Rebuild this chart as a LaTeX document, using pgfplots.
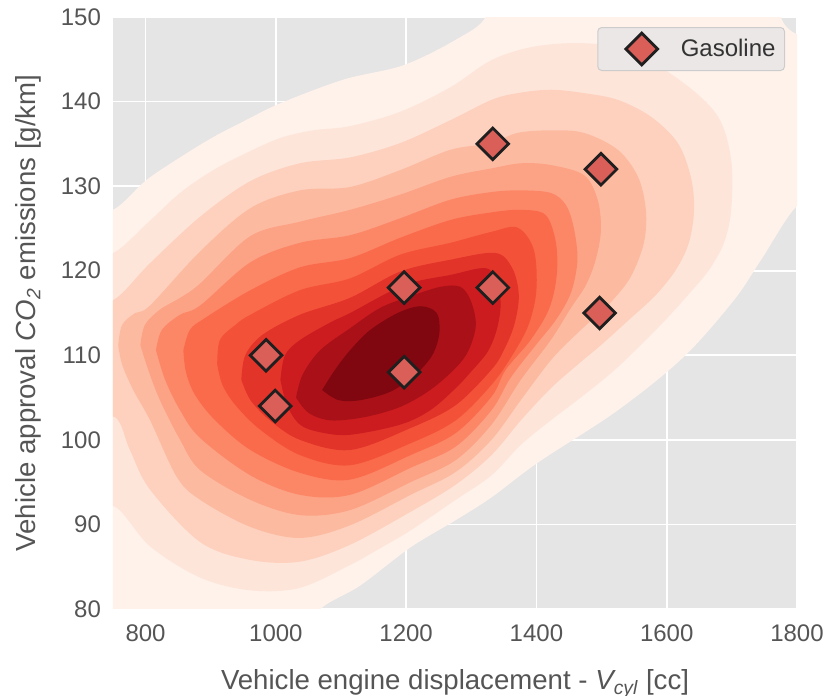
\documentclass[border=0pt]{standalone}
\usepackage{pgfplots}
\pgfplotsset{compat=1.18}
\usepackage{fontspec}
\setmainfont{Liberation Sans}

\definecolor{panel}{HTML}{E5E5E5}
\definecolor{labgray}{HTML}{555555}
\definecolor{legtext}{HTML}{333333}
\definecolor{legfill}{HTML}{EAE7E6}
\definecolor{legedge}{HTML}{CCCCCC}
\definecolor{gasfill}{HTML}{DA5F58}
% density bands, light to dark
\definecolor{lvA}{HTML}{FFF2EB}
\definecolor{lvB}{HTML}{FEE5D9}
\definecolor{lvC}{HTML}{FDD1BE}
\definecolor{lvD}{HTML}{FCBBA1}
\definecolor{lvE}{HTML}{FCA285}
\definecolor{lvF}{HTML}{FC8767}
\definecolor{lvG}{HTML}{FA6B4C}
\definecolor{lvH}{HTML}{F35239}
\definecolor{lvI}{HTML}{E3342A}
\definecolor{lvJ}{HTML}{CC1C1F}
\definecolor{lvK}{HTML}{AA1017}
\definecolor{lvL}{HTML}{80070F}

\pgfplotsset{band/.style={draw=none, fill=#1, smooth, tension=0.55, forget plot}}

\begin{document}
\begin{tikzpicture}
\path[use as bounding box] (-56.5pt,-43.5pt) rectangle (356.5pt,304.5pt);
\begin{axis}[
  at={(0,0)}, anchor=south west, scale only axis,
  width=342pt, height=296pt,
  xmin=750, xmax=1800, ymin=80, ymax=150,
  xtick={800,1000,...,1800}, ytick={80,90,...,150},
  axis background/.style={fill=panel},
  grid=major, major grid style={white, line width=0.8pt},
  axis line style={draw=none}, major tick length=0pt,
  /pgf/number format/assume math mode=true,
  /pgf/number format/1000 sep={},
  tick label style={font=\fontsize{12}{14}\selectfont, text=labgray},
  xticklabel style={yshift=-4.5pt},
  yticklabel style={xshift=-2.5pt},
  label style={font=\fontsize{13.8}{16}\selectfont, text=labgray},
  xlabel={Vehicle engine displacement - \textit{V\textsubscript{cyl}} [cc]},
  ylabel={Vehicle approval \textit{CO\textsubscript{2}} emissions [g/km]},
  xlabel style={at={(rel axis cs:0.5,0)}, anchor=base, yshift=-40.5pt},
  ylabel style={at={(rel axis cs:0,0.5)}, anchor=base, yshift=38.5pt},
  legend style={at={(rel axis cs:1,1)}, anchor=north east, xshift=-6pt, yshift=-5pt,
    fill=legfill, draw=legedge, line width=0.5pt, rounded corners=2pt,
    font=\fontsize{12}{14}\selectfont, text=legtext,
    inner xsep=2.5pt, inner ysep=0pt},
  legend cell align=left,
  legend image code/.code={\path[draw=none, fill=none] (-19.5pt,-10.75pt) rectangle (17.5pt,10.75pt);
    \draw[#1] plot coordinates {(0pt,0pt)};},
]

% filled density contours, outermost first
\addplot[band=lvA] coordinates {
(700,127.2) (750,127.2) (801,130.7) (853,133.4) (904,135.8) (954,137.8)
(1007,139.8) (1104,142.6) (1196,144.3) (1276,147.3) (1322,150.0) (1330,155)
(1770,155) (1775,150) (1802,147.9) (1850,147.9) (1850,128) (1802,127.8)
(1745,121.3) (1703,116.5) (1626,109.8) (1525,103.5) (1402,97.3) (1331,93.2)
(1276,90.5) (1207,87.3) (1130,82.8) (1064,79.6) (1064,75) (700,75) (700,127.2)};

\addplot[band=lvB] coordinates {
(700,122.1) (750,122.1) (801,125.5) (853,129.2) (904,131.9) (954,133.9)
(1007,135.7) (1057,136.6) (1114,137.1) (1191,138.8) (1268,141.7) (1331,144.9)
(1396,146.5) (1473,146.9) (1545,146.0) (1626,142.2) (1679,138.2) (1699,133.1)
(1699,127.2) (1688,123.3) (1665,120.1) (1637,117.5) (1591,113.6) (1525,108.6)
(1473,105.3) (1422,102.3) (1376,99.4) (1331,95.8) (1276,92.9) (1207,89.3)
(1156,87.0) (1114,85.2) (1037,82.5) (961,82.2) (884,83.7) (807,87.4)
(753,92.1) (700,92.1) (700,122.1)};

\addplot[band=lvC] coordinates {
(700,116.5) (750,116.5) (807,120.9) (884,126.4) (961,130.6) (1037,132.7)
(1114,133.4) (1191,135.1) (1268,137.8) (1331,140.2) (1371,141.0) (1422,141.4)
(1473,141.0) (1525,140.2) (1576,138.2) (1617,135.1) (1637,131.1) (1642,127.2)
(1634,123.3) (1614,120.1) (1583,117.1) (1545,114.4) (1499,111.2) (1468,109.2)
(1422,106.1) (1376,102.3) (1331,98.2) (1276,94.7) (1207,91.5) (1114,87.6)
(1037,85.6) (961,85.8) (884,87.9) (807,94.1) (776,98.8) (753,102.7)
(700,102.7) (700,116.5)};

\addplot[band=lvD] coordinates {
(758,111.2) (764,113.6) (784,115.0) (807,115.9) (884,122.3) (961,127.4)
(1037,129.5) (1114,129.9) (1191,131.9) (1268,134.3) (1331,135.1) (1371,136.3)
(1422,136.6) (1473,136.3) (1525,134.3) (1556,131.1) (1568,127.2) (1565,123.3)
(1545,119.3) (1517,116.5) (1494,114.8) (1460,112.4) (1422,109.4) (1376,104.7)
(1331,100.0) (1276,96.2) (1207,93.5) (1114,89.9) (1037,88.4) (961,89.7)
(884,92.9) (848,95.6) (807,102.3) (781,105.9) (764,108.9) (758,111.2)};

\addplot[band=lvE] coordinates {
(792,111.2) (799,113.6) (822,115.4) (853,116.8) (884,118.5) (961,124.1)
(1037,125.8) (1114,127.2) (1191,129.0) (1268,131.1) (1331,132.1) (1376,132.7)
(1422,132.5) (1473,131.3) (1494,128.4) (1499,124.8) (1491,121.3) (1476,118.3)
(1453,115.6) (1422,111.8) (1376,107.1) (1331,101.8) (1276,97.6) (1207,95.0)
(1114,91.7) (1037,91.1) (961,92.9) (884,96.4) (853,100.0) (822,104.7)
(804,108.3) (792,111.2)};

\addplot[band=lvF] coordinates {
(816,110.6) (825,113.0) (853,114.8) (884,115.9) (961,121.0) (1037,123.3)
(1114,124.2) (1191,126.2) (1268,128.4) (1331,129.3) (1376,129.5) (1422,129.2)
(1445,127.8) (1457,125.2) (1463,121.3) (1453,117.4) (1430,114.2) (1399,111.2)
(1360,107.3) (1331,103.5) (1276,99.2) (1207,96.7) (1114,93.5) (1037,93.5)
(961,95.8) (884,100.2) (853,103.5) (830,107.1) (816,110.6)};

\addplot[band=lvG] coordinates {
(858,110.6) (868,113.0) (891,114.4) (961,117.7) (1037,120.4) (1114,121.5)
(1191,123.9) (1268,126.0) (1331,126.9) (1376,127.2) (1414,126.6) (1430,123.3)
(1431,119.3) (1419,115.4) (1391,111.8) (1353,108.3) (1331,105.1) (1276,100.8)
(1207,98.2) (1114,95.3) (1037,96.1) (961,98.8) (907,102.3) (876,105.3)
(862,108.0) (858,110.6)};

\addplot[band=lvH] coordinates {
(910,108.9) (914,111.8) (938,113.6) (961,114.8) (1037,117.7) (1114,119.1)
(1191,121.9) (1268,123.3) (1331,124.6) (1371,125.1) (1396,122.5) (1400,117.7)
(1388,113.6) (1363,110.0) (1331,106.5) (1276,102.3) (1207,99.6) (1114,97.0)
(1037,98.2) (976,101.2) (938,104.1) (918,106.5) (910,108.9)};

\addplot[band=lvI] coordinates {
(947,107.1) (953,110.0) (979,112.4) (1037,114.8) (1114,116.8) (1191,119.9)
(1268,121.3) (1337,122.1) (1363,120.3) (1373,117.1) (1366,113.6) (1350,110.6)
(1331,108.3) (1276,104.1) (1207,101.4) (1114,98.8) (1037,100.0) (991,102.3)
(961,104.7) (947,107.1)};

\addplot[band=lvJ] coordinates {
(1007,107.1) (1014,110.0) (1037,111.8) (1084,113.9) (1114,115.0) (1197,118.3)
(1268,119.5) (1322,120.3) (1340,118.7) (1345,115.9) (1339,113.0) (1325,110.4)
(1299,108.0) (1276,106.1) (1237,103.5) (1191,101.8) (1114,100.6) (1068,100.9)
(1037,101.8) (1017,104.1) (1007,107.1)};

\addplot[band=lvK] coordinates {
(1031,105.0) (1041,107.7) (1068,110.6) (1114,113.2) (1160,115.6) (1207,117.0)
(1253,118.1) (1283,118.1) (1299,116.5) (1307,113.6) (1296,110.6) (1276,108.5)
(1237,105.9) (1191,103.9) (1137,102.7) (1084,102.3) (1050,103.2) (1031,105.0)};

\addplot[band=lvL] coordinates {
(1071,105.9) (1091,108.3) (1114,110.6) (1145,113.0) (1187,115.0) (1222,115.8)
(1247,115.0) (1251,112.6) (1240,110.0) (1214,107.7) (1176,105.7) (1130,104.7)
(1096,104.7) (1071,105.9)};

% gasoline vehicles
\addplot[only marks, mark=square*, mark size=5.6pt,
  mark options={rotate=45, fill=gasfill, draw=black!88, line width=1.4pt}]
  coordinates {
  (985,110) (999,104) (1197,108) (1197,118)
  (1333,118) (1333,135) (1497,115) (1499,132)};
\addlegendentry{Gasoline}

\end{axis}
\end{tikzpicture}
\end{document}
